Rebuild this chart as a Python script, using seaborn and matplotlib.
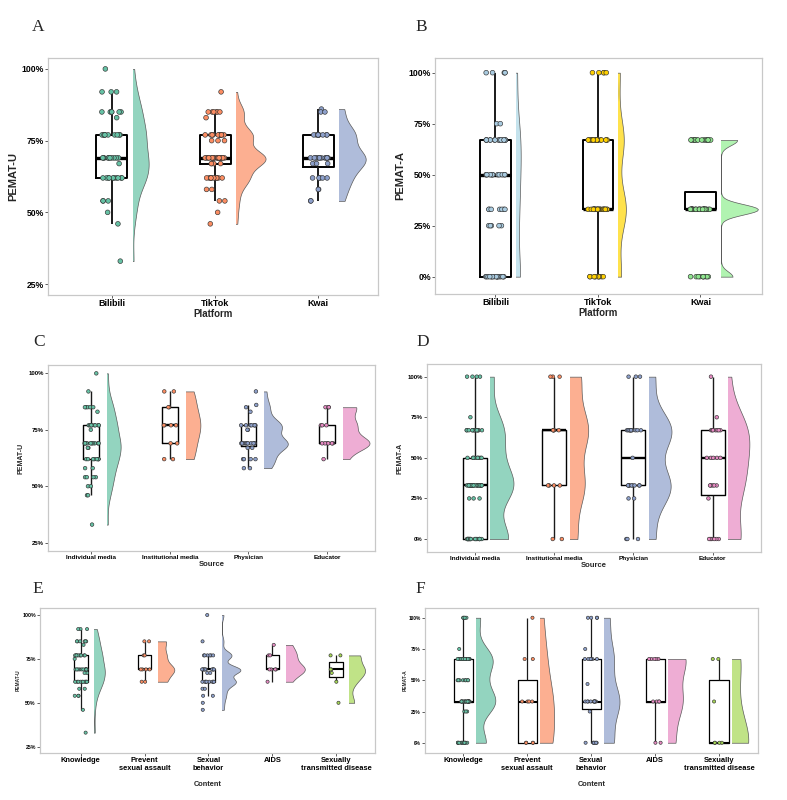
import numpy as np
import pandas as pd
import matplotlib
matplotlib.use("Agg")
import matplotlib.pyplot as plt
import seaborn as sns
from matplotlib.patches import Rectangle
from matplotlib.colors import to_rgba
from matplotlib.ticker import PercentFormatter

sns.set_theme(style="white")
plt.rcParams["font.family"] = ["Liberation Sans", "DejaVu Sans"]
np.random.seed(11)

# ---------------- data: (score, number of videos) ----------------
PLATFORMS = ["Bilibili", "TikTok", "Kwai"]
SOURCES = ["Individual media", "Institutional media", "Physician", "Educator"]
CONTENTS = ["Knowledge", "Prevent\nsexual assault", "Sexual\nbehavior", "AIDS",
            "Sexually\ntransmitted disease"]

A_BILIBILI = [(1.00, 1), (0.92, 3), (0.85, 6), (0.83, 1), (0.77, 10), (0.69, 10), (0.67, 1),
              (0.62, 10), (0.54, 3), (0.50, 1), (0.46, 1), (0.33, 1)]
A_TIKTOK = [(0.92, 1), (0.85, 6), (0.83, 1), (0.77, 12), (0.75, 3), (0.69, 22), (0.67, 4),
            (0.62, 10), (0.58, 2), (0.54, 2), (0.50, 1), (0.46, 1)]
A_KWAI = [(0.86, 1), (0.85, 2), (0.77, 9), (0.69, 12), (0.67, 3), (0.62, 5), (0.58, 2), (0.54, 2)]

B_BILIBILI = [(1.00, 5), (0.75, 2), (0.67, 14), (0.50, 12), (0.33, 7), (0.25, 5), (0.00, 18)]
B_TIKTOK = [(1.00, 5), (0.67, 20), (0.33, 28), (0.00, 10)]
B_KWAI = [(0.67, 14), (0.33, 32), (0.00, 10)]

C_INDIVIDUAL = [(1.00, 1), (0.92, 1), (0.85, 5), (0.83, 1), (0.77, 8), (0.75, 1), (0.69, 10),
                (0.67, 2), (0.62, 8), (0.58, 2), (0.54, 4), (0.50, 2), (0.46, 2), (0.33, 1)]
C_INSTITUTIONAL = [(0.92, 2), (0.85, 2), (0.77, 4), (0.69, 2), (0.62, 2)]
C_PHYSICIAN = [(0.92, 1), (0.86, 1), (0.85, 1), (0.83, 1), (0.77, 7), (0.75, 2), (0.69, 10),
               (0.67, 2), (0.62, 4), (0.58, 2)]
C_EDUCATOR = [(0.85, 3), (0.77, 3), (0.69, 6), (0.62, 1)]

D_INDIVIDUAL = [(1.00, 4), (0.75, 1), (0.67, 14), (0.50, 9), (0.33, 24), (0.25, 3), (0.00, 22)]
D_INSTITUTIONAL = [(1.00, 3), (0.67, 5), (0.33, 4), (0.00, 2)]
D_PHYSICIAN = [(1.00, 3), (0.67, 11), (0.50, 1), (0.33, 9), (0.25, 2), (0.00, 3)]
D_EDUCATOR = [(1.00, 1), (0.75, 1), (0.67, 7), (0.50, 5), (0.33, 5), (0.25, 1), (0.00, 6)]

E_KNOWLEDGE = [(0.92, 3), (0.85, 6), (0.83, 1), (0.77, 10), (0.75, 1), (0.69, 12), (0.67, 2),
               (0.62, 10), (0.58, 2), (0.54, 3), (0.46, 1), (0.33, 1)]
E_PREVENT = [(0.85, 2), (0.77, 2), (0.69, 4), (0.62, 2)]
E_BEHAVIOR = [(1.00, 1), (0.85, 1), (0.77, 6), (0.69, 10), (0.67, 2), (0.62, 8), (0.58, 2),
              (0.54, 2), (0.50, 1), (0.46, 1)]
E_AIDS = [(0.83, 1), (0.77, 2), (0.69, 4), (0.62, 1)]
E_STD = [(0.77, 2), (0.69, 2), (0.67, 1), (0.62, 1), (0.50, 1)]

F_KNOWLEDGE = [(1.00, 5), (0.75, 1), (0.67, 18), (0.50, 8), (0.33, 20), (0.25, 3), (0.00, 12)]
F_PREVENT = [(1.00, 1), (0.67, 2), (0.33, 4), (0.00, 4)]
F_BEHAVIOR = [(1.00, 4), (0.75, 1), (0.67, 6), (0.47, 1), (0.33, 10), (0.25, 1), (0.00, 7)]
F_AIDS = [(0.67, 5), (0.33, 4), (0.00, 2)]
F_STD = [(0.67, 2), (0.33, 1), (0.00, 4)]

SET2 = ["#66C2A5", "#FC8D62", "#8DA0CB", "#E78AC3", "#A6D854"]
B_DOTS = ["#A9CBE0", "#FFD000", "#8FE58F"]
B_VIOL = ["#ADD8E6", "#FFD700", "#90EE90"]

U_TICKS = [0.25, 0.50, 0.75, 1.00]
A_TICKS = [0.00, 0.25, 0.50, 0.75, 1.00]

W, H = 787, 800
fig = plt.figure(figsize=(W / 100, H / 100), dpi=100)


def px_rect(x0, y0, x1, y1):
    return [x0 / W, 1 - y1 / H, (x1 - x0) / W, (y1 - y0) / H]


def expand(pairs):
    return np.concatenate([np.full(c, v, float) for v, c in pairs])


def nrd0(v):
    sd = v.std(ddof=1)
    q75, q25 = np.percentile(v, [75, 25])
    lo = min(sd, (q75 - q25) / 1.34)
    if lo <= 0:
        lo = sd if sd > 0 else 1.0
    return 0.9 * lo * len(v) ** -0.2


def kde_peak(v, bw):
    grid = np.linspace(v.min(), v.max(), 400)
    d = np.exp(-0.5 * ((grid[:, None] - v[None, :]) / bw) ** 2).sum(1)
    return (d / (len(v) * bw * np.sqrt(2 * np.pi))).max()


def draw_panel(s):
    ax = fig.add_axes(px_rect(*s["rect"]))
    groups = [expand(g) for g in s["groups"]]
    labels = s["labels"]
    k = len(groups)
    df = pd.DataFrame({
        "pos": np.concatenate([np.full(len(g), float(i)) for i, g in enumerate(groups)]),
        "value": np.concatenate(groups),
        "group": np.concatenate([[labels[i]] * len(g) for i, g in enumerate(groups)]),
    })

    # half violins (area-normalised like ggplot's default)
    bws = [nrd0(g) for g in groups]
    peaks = [kde_peak(g, b) for g, b in zip(groups, bws)]
    pmax = max(peaks)
    off = s["off"]
    for i, (g, bw, pk) in enumerate(zip(groups, bws, peaks)):
        hw = s["hw"] * pk / pmax
        n0 = len(ax.collections)
        c = s["vcolors"][i]
        sns.violinplot(x=np.full(len(g), i + off), y=g, native_scale=True, orient="x",
                       width=2 * hw, cut=0, inner=None, density_norm="width",
                       bw_method=bw / g.std(ddof=1), color=c, saturation=1,
                       linecolor="#5a5a5a", linewidth=0.5, ax=ax)
        clip = Rectangle((i + off, -10), 10, 20, transform=ax.transData)
        for coll in ax.collections[n0:]:
            coll.set_clip_path(clip)
            coll.set_facecolor(to_rgba(c, 0.7))

    sns.boxplot(data=df, x="pos", y="value", native_scale=True, orient="x",
                width=s["box_w"], fill=False, color="black", linewidth=s["box_lw"],
                showfliers=False, showcaps=False, whis=1.5,
                medianprops={"linewidth": s["med_lw"], "color": "black"},
                whiskerprops={"color": "#1a1a1a", "linewidth": s["box_lw"]},
                boxprops={"color": "black", "linewidth": s["box_lw"]}, ax=ax)

    sns.stripplot(data=df, x="pos", y="value", hue="group", hue_order=labels,
                  palette=s["dcolors"], native_scale=True, orient="x", jitter=0.1,
                  size=s["dot"], edgecolor="#333333", linewidth=0.45, legend=False,
                  ax=ax, zorder=3)

    ax.set_xlim(*s["xlim"])
    ax.set_ylim(*s["ylim"])
    ax.set_xticks(range(k))
    ax.set_xticklabels(labels, fontsize=s["fx"], fontweight="bold", color="black")
    ax.set_yticks(s["yticks"])
    ax.yaxis.set_major_formatter(PercentFormatter(1.0, decimals=0))
    for lab in ax.get_yticklabels():
        lab.set_fontweight("bold")
        lab.set_fontsize(s["fy"])
        lab.set_color("black")
    ax.set_xlabel(s["xlabel"], fontsize=s["fxl"], fontweight="bold", labelpad=s["xpad"])
    ax.set_ylabel(s["ylabel"], fontsize=s["fyl"], fontweight="bold", labelpad=s["ypad"])
    for sp in ax.spines.values():
        sp.set_color("#C8C8C8")
        sp.set_linewidth(0.9)
    ax.tick_params(axis="both", which="major", bottom=True, left=True, length=2,
                   width=0.6, color="#444444", pad=1.0)
    ax.grid(False)
    fig.text(s["letter_xy"][0] / W, 1 - s["letter_xy"][1] / H, s["letter"],
             fontfamily="Liberation Serif", fontsize=12.5, ha="left", va="baseline")


U_A = dict(fx=6.5, fy=6.2, fxl=7, fyl=8, xpad=0.5, ypad=2.5, dot=3.4, box_lw=1.4, med_lw=2.4)
U_C = dict(fx=4.6, fy=4.3, fxl=5.5, fyl=5, xpad=0.5, ypad=3, dot=2.6, box_lw=1.0, med_lw=1.7)
U_E = dict(fx=5.4, fy=3.8, fxl=5.3, fyl=3.5, xpad=6, ypad=1, dot=2.3, box_lw=0.9, med_lw=1.5)

panels = [
    dict(U_A, rect=(48, 58, 378, 295), letter="A", letter_xy=(32, 31),
         groups=[A_BILIBILI, A_TIKTOK, A_KWAI], labels=PLATFORMS,
         vcolors=SET2[:3], dcolors=SET2[:3], xlabel="Platform", ylabel="PEMAT-U",
         xlim=(-0.62, 2.58), ylim=(0.212, 1.038), yticks=U_TICKS, box_w=0.3, hw=0.29, off=0.2),
    dict(U_A, rect=(435, 58, 762, 294), letter="B", letter_xy=(415, 31),
         groups=[B_BILIBILI, B_TIKTOK, B_KWAI], labels=PLATFORMS,
         vcolors=B_VIOL, dcolors=B_DOTS, xlabel="Platform", ylabel="PEMAT-A",
         xlim=(-0.59, 2.6), ylim=(-0.085, 1.072), yticks=A_TICKS, box_w=0.3, hw=0.36, off=0.2),
    dict(U_C, rect=(48, 365, 375, 551), letter="C", letter_xy=(33, 346),
         groups=[C_INDIVIDUAL, C_INSTITUTIONAL, C_PHYSICIAN, C_EDUCATOR], labels=SOURCES,
         vcolors=SET2[:4], dcolors=SET2[:4], xlabel="Source", ylabel="PEMAT-U",
         xlim=(-0.55, 3.61), ylim=(0.213, 1.037), yticks=U_TICKS, box_w=0.2, hw=0.34, off=0.2),
    dict(U_C, rect=(427, 364, 761, 552), letter="D", letter_xy=(416, 346),
         groups=[D_INDIVIDUAL, D_INSTITUTIONAL, D_PHYSICIAN, D_EDUCATOR], labels=SOURCES,
         vcolors=SET2[:4], dcolors=SET2[:4], xlabel="Source", ylabel="PEMAT-A",
         xlim=(-0.6, 3.61), ylim=(-0.08, 1.078), yticks=A_TICKS, box_w=0.3, hw=0.29, off=0.2),
    dict(U_E, rect=(40, 608, 375, 753), letter="E", letter_xy=(32, 593),
         groups=[E_KNOWLEDGE, E_PREVENT, E_BEHAVIOR, E_AIDS, E_STD], labels=CONTENTS,
         vcolors=SET2, dcolors=SET2, xlabel="Content", ylabel="PEMAT-U",
         xlim=(-0.64, 4.61), ylim=(0.214, 1.04), yticks=U_TICKS, box_w=0.21, hw=0.3, off=0.21),
    dict(U_E, rect=(425, 608, 758, 753), letter="F", letter_xy=(415, 593),
         groups=[F_KNOWLEDGE, F_PREVENT, F_BEHAVIOR, F_AIDS, F_STD], labels=CONTENTS,
         vcolors=SET2, dcolors=SET2, xlabel="Content", ylabel="PEMAT-A",
         xlim=(-0.6, 4.61), ylim=(-0.082, 1.078), yticks=A_TICKS, box_w=0.3, hw=0.3, off=0.2),
]
panels[5]["fy"] = 3.4

for spec in panels:
    draw_panel(spec)

fig.savefig("out.png", dpi=100, facecolor="white")
